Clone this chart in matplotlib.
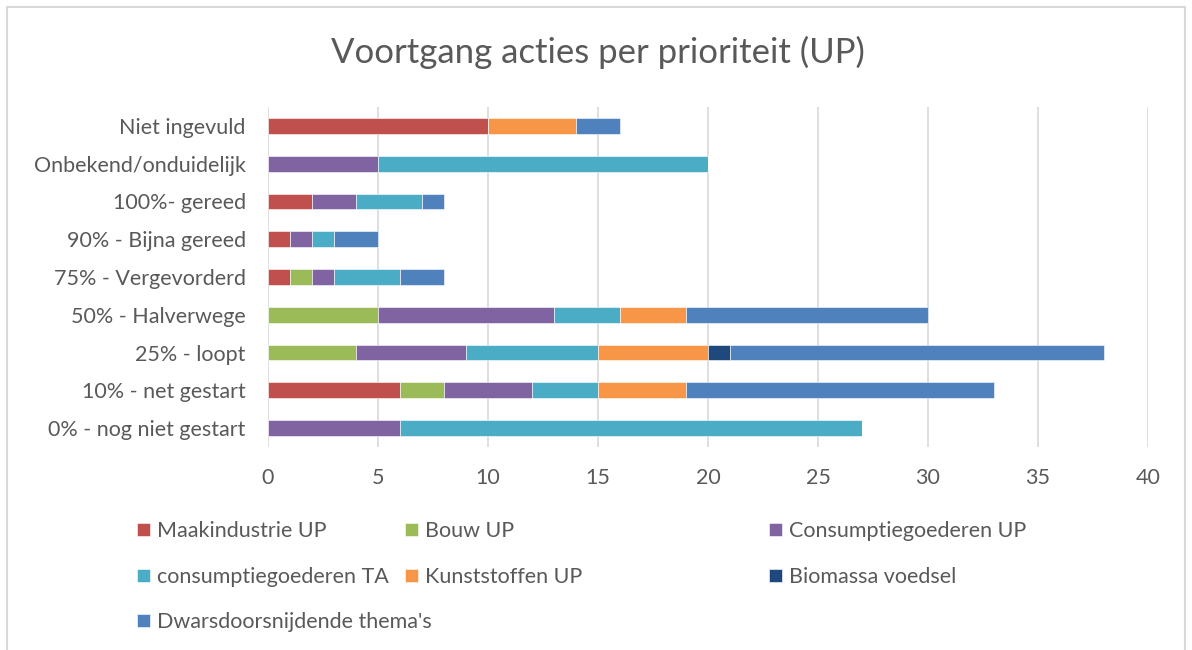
import matplotlib.pyplot as plt
import numpy as np
from matplotlib.patches import Rectangle

plt.rcParams['font.family'] = ['Lato', 'DejaVu Sans']

categories = ["0% - nog niet gestart", "10% - net gestart", "25% - loopt",
              "50% - Halverwege", "75% - Vergevorderd", "90% - Bijna gereed",
              "100%- gereed", "Onbekend/onduidelijk", "Niet ingevuld"]

series_names = ["Maakindustrie UP", "Bouw UP", "Consumptiegoederen UP",
                "consumptiegoederen TA", "Kunststoffen UP", "Biomassa voedsel",
                "Dwarsdoorsnijdende thema's"]

# values per category, same order as categories (bottom to top)
maakindustrie = [0, 6, 0, 0, 1, 1, 2, 0, 10]
bouw = [0, 2, 4, 5, 1, 0, 0, 0, 0]
consumptie_up = [6, 4, 5, 8, 1, 1, 2, 5, 0]
consumptie_ta = [21, 3, 6, 3, 3, 1, 3, 15, 0]
kunststoffen = [0, 4, 5, 3, 0, 0, 0, 0, 4]
biomassa = [0, 0, 1, 0, 0, 0, 0, 0, 0]
dwars = [0, 14, 17, 11, 2, 2, 1, 0, 2]

colors = ["#C0504D", "#9BBB59", "#8064A2", "#4BACC6", "#F79646", "#1F497D", "#4F81BD"]

text_col = "#595959"
fs = 15.5

fig = plt.figure(figsize=(11.92, 6.5), dpi=100)
ax = fig.add_axes([268 / 1192, 1 - 447 / 650, 880 / 1192, 340 / 650])

y = np.arange(len(categories))
left = np.zeros(len(categories))
bars = []
for vals, name, c in zip([maakindustrie, bouw, consumptie_up, consumptie_ta,
                          kunststoffen, biomassa, dwars], series_names, colors):
    b = ax.barh(y, vals, left=left, height=0.42, color=c, label=name,
                edgecolor="white", linewidth=0.4, zorder=3)
    bars.append(b)
    left += np.array(vals)

ax.set_xlim(0, 40)
ax.set_ylim(-0.5, len(categories) - 0.5)
ax.set_xticks(range(0, 41, 5))
ax.set_yticks(y)
ax.set_yticklabels(categories)
ax.tick_params(length=0, labelsize=fs, colors=text_col)
ax.tick_params(axis="x", pad=15)
ax.tick_params(axis="y", pad=16)
ax.grid(axis="x", color="#D9D9D9", linewidth=1.2, zorder=0)
for s in ax.spines.values():
    s.set_visible(False)

fig.text(598 / 1192, 1 - 52 / 650, "Voortgang acties per prioriteit (UP)",
         ha="center", va="center", fontsize=25, color=text_col)

# legend laid out like excel: rows left to right
col_x = [137, 405, 769]
row_y = [531, 577, 622]
for i, (b, name) in enumerate(zip(bars, series_names)):
    r, c = divmod(i, 3)
    fig.legend(handles=[b], labels=[name], loc="center left",
               bbox_to_anchor=(col_x[c] / 1192, 1 - row_y[r] / 650),
               frameon=False, fontsize=fs, labelcolor=text_col,
               handlelength=0.6, handleheight=0.6, handletextpad=0.35,
               borderaxespad=0, borderpad=0)

fig.add_artist(Rectangle((7 / 1192, -0.05), 1178 / 1192, 1.05 - 7 / 650,
                         transform=fig.transFigure, fill=False,
                         edgecolor="#D9D9D9", linewidth=1.5))

fig.savefig("out.png", dpi=100)
